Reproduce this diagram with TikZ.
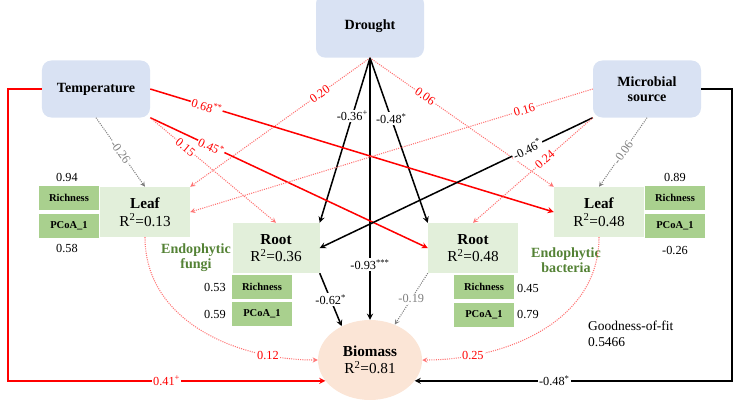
\documentclass[tikz,border=0pt]{standalone}
\usepackage{fontspec}
\setmainfont{Liberation Serif}
\usepackage{tikz}
\usetikzlibrary{shapes.geometric, arrows}
\definecolor{driverblue}{RGB}{217,226,243}
\definecolor{partgreen}{RGB}{226,239,218}
\definecolor{subgreen}{RGB}{169,208,142}
\definecolor{labgreen}{RGB}{84,130,53}
\definecolor{bioorange}{RGB}{251,229,214}
\tikzstyle{driver} = [rectangle, rounded corners=8pt,
minimum width=3.24cm,
minimum height=1.71cm,
align=center,
font=\bfseries\fontsize{12}{13}\selectfont,
fill=driverblue]
\tikzstyle{part} = [rectangle,
minimum width=2.7cm,
minimum height=1.5cm,
align=center,
font=\fontsize{13}{15}\selectfont,
fill=partgreen]
\tikzstyle{sub} = [rectangle,
minimum width=1.8cm,
minimum height=0.72cm,
font=\bfseries\fontsize{9}{10}\selectfont,
fill=subgreen]
\tikzstyle{bio} = [ellipse,
minimum width=3.12cm,
minimum height=2.4cm,
align=center,
font=\fontsize{13}{15}\selectfont,
fill=bioorange]
\tikzstyle{val} = [font=\fontsize{10.5}{12}\selectfont, inner sep=1pt]
\tikzstyle{coef} = [font=\fontsize{10.5}{12}\selectfont, fill=white, inner sep=1pt]
\tikzstyle{posarrow} = [line width=1.3pt, red, ->, >=stealth]
\tikzstyle{negarrow} = [line width=1.3pt, black, ->, >=stealth]
\tikzstyle{posns} = [red!55, densely dotted, line width=0.9pt, ->, >=stealth]
\tikzstyle{negns} = [gray, densely dotted, line width=0.9pt, ->, >=stealth]

\begin{document}
\begin{tikzpicture}[x=0.03cm, y=-0.03cm]
\useasboundingbox (0,0) rectangle (740,401);

% drivers
\node (drought) [driver, minimum height=1.9cm] at (370,26) {Drought};
\node (temp) [driver] at (96,89) {Temperature};
\node (micro) [driver] at (647,89) {Microbial\\source};

% endophytic fungi
\node (leafL) [part] at (145,212) {\textbf{Leaf}\\R\textsuperscript{2}=0.13};
\node (richLL) [sub] at (69,198) {Richness};
\node (pcoaLL) [sub] at (69,226) {PCoA\_1};
\node [val] at (67,177) {0.94};
\node [val] at (67,248) {0.58};
\node (rootL) [part, minimum width=2.61cm] at (276,248) {\textbf{Root}\\R\textsuperscript{2}=0.36};
\node (richRL) [sub] at (262,287) {Richness};
\node (pcoaRL) [sub] at (262,314) {PCoA\_1};
\node [val] at (215,287) {0.53};
\node [val] at (215,314) {0.59};
\node [font=\bfseries\fontsize{12}{13}\selectfont, text=labgreen, align=center] at (196,258) {Endophytic\\fungi};

% endophytic bacteria
\node (rootR) [part] at (473,248) {\textbf{Root}\\R\textsuperscript{2}=0.48};
\node (richRR) [sub] at (484,287) {Richness};
\node (pcoaRR) [sub] at (484,315) {PCoA\_1};
\node [val] at (528,288) {0.45};
\node [val] at (528,314) {0.79};
\node (leafR) [part] at (599,212) {\textbf{Leaf}\\R\textsuperscript{2}=0.48};
\node (richLR) [sub] at (675,198) {Richness};
\node (pcoaLR) [sub] at (675,226) {PCoA\_1};
\node [val] at (675,177) {0.89};
\node [val] at (675,250) {-0.26};
\node [font=\bfseries\fontsize{12}{13}\selectfont, text=labgreen, align=center] at (566,260) {Endophytic\\bacteria};

\node (biomass) [bio] at (370,360) {\textbf{Biomass}\\R\textsuperscript{2}=0.81};
\node [font=\fontsize{11.5}{14}\selectfont, align=left, anchor=west] at (584,334) {Goodness-of-fit\\0.5466};

% paths from drought
\draw [posns] (drought.south) -- node[coef, pos=0.28, sloped, text=red] {0.20} (leafL.north east);
\draw [posns] (drought.south) -- node[coef, pos=0.3, sloped, text=red] {0.06} (leafR.north west);
\draw [negarrow] (drought.south) -- node[coef, pos=0.35] {-0.36\textsuperscript{+}} (rootL.north east);
\draw [negarrow] (drought.south) -- node[coef, pos=0.37] {-0.48\textsuperscript{*}} (rootR.north west);
\draw [negarrow] (drought.south) -- node[coef, pos=0.79] {-0.93\textsuperscript{***}} (biomass.north);

% paths from temperature
\draw [negns] (temp.south) -- node[coef, sloped] {-0.26} (leafL.north);
\draw [posarrow] (temp.east) -- node[coef, pos=0.14, sloped, text=red] {0.68\textsuperscript{**}} (leafR.west);
\draw [posarrow] (temp.south east) -- node[coef, pos=0.22, sloped, text=red] {0.45\textsuperscript{*}} (rootR.west);
\draw [posns] (temp.south east) -- node[coef, pos=0.28, sloped, text=red] {0.15} (rootL.north);
\draw [posarrow] (temp.west) -- (8,89) |- node[coef, pos=0.75, text=red] {0.41\textsuperscript{+}} (biomass.-155);

% paths from microbial source
\draw [posns] (micro.west) -- node[coef, pos=0.17, sloped, text=red] {0.16} (leafL.east);
\draw [negarrow] (micro.south west) -- node[coef, pos=0.24, sloped] {-0.46\textsuperscript{*}} (rootL.east);
\draw [posns] (micro.south west) -- node[coef, pos=0.4, sloped, text=red] {0.24} (rootR.north);
\draw [negns] (micro.south) -- node[coef, sloped] {-0.06} (leafR.north);
\draw [negarrow] (micro.east) -- (732,89) |- node[coef, pos=0.78] {-0.48\textsuperscript{*}} (biomass.-25);

% paths to biomass
\draw [negarrow] (rootL.south east) -- node[coef] {-0.62\textsuperscript{*}} (biomass.130);
\draw [negns] (rootR.south west) -- node[coef] {-0.19} (biomass.55);
\draw [posns] (leafL.south) to[out=-90, in=180] node[coef, pos=0.8, text=red] {0.12} (biomass.west);
\draw [posns] (leafR.south) to[out=-90, in=0] node[coef, pos=0.8, text=red] {0.25} (biomass.east);

\end{tikzpicture}
\end{document}
